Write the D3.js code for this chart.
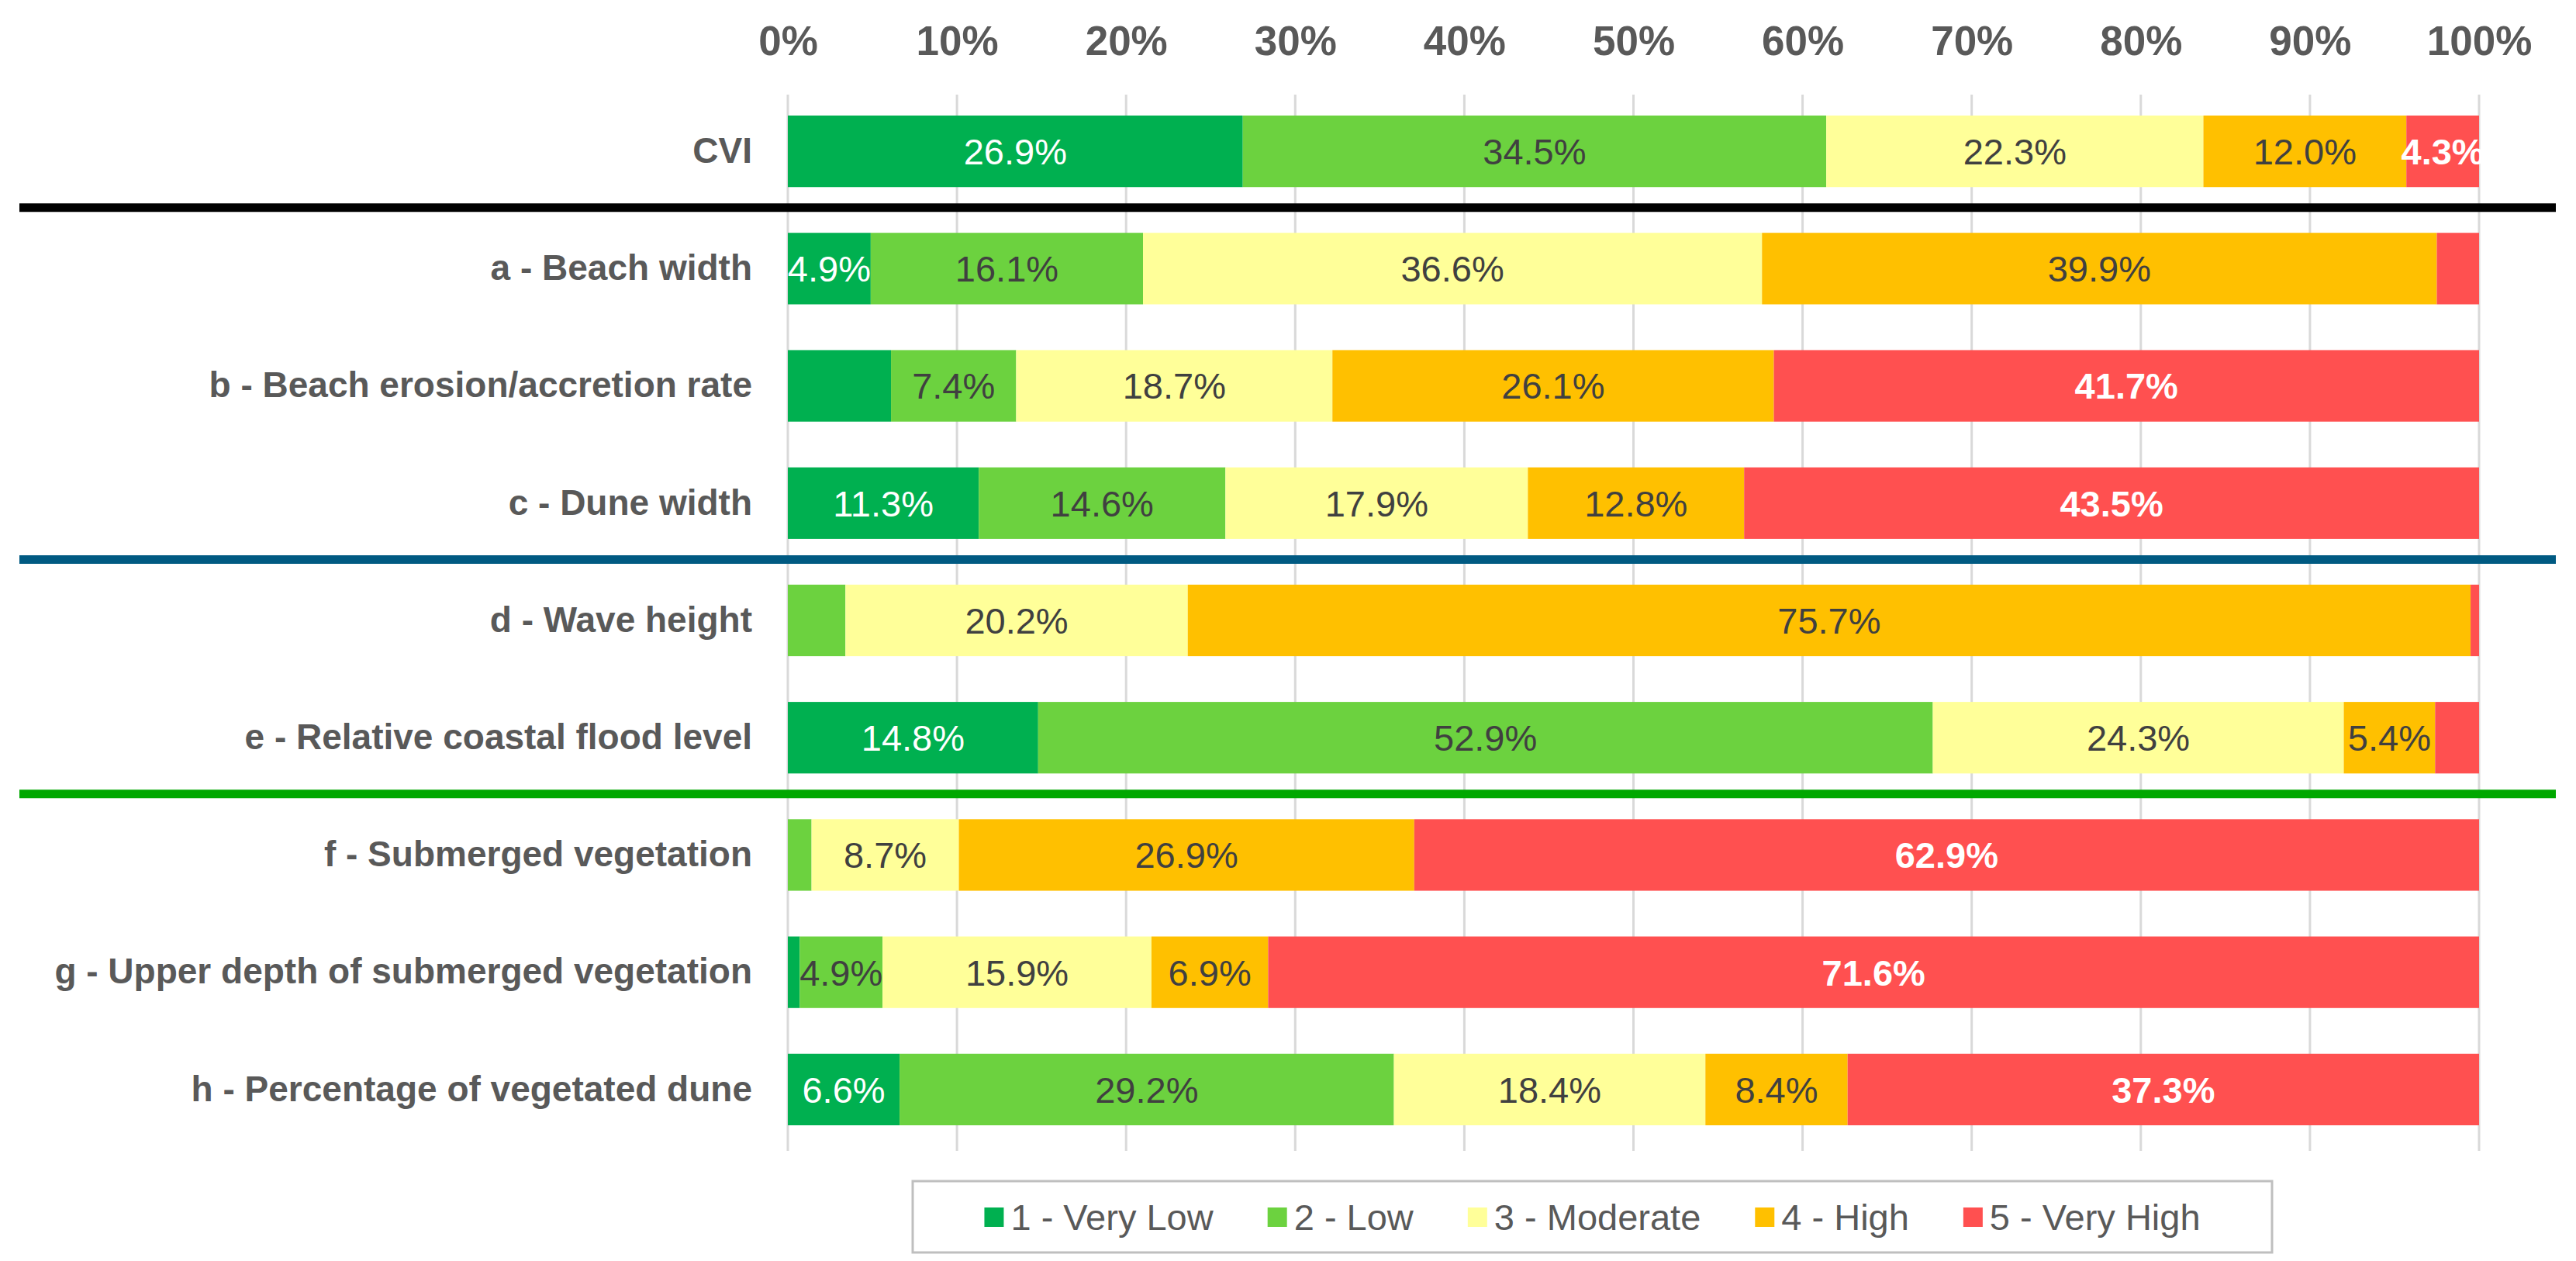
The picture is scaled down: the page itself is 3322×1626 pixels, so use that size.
<!DOCTYPE html>
<html>
<head>
<meta charset="utf-8">
<script src="https://cdn.jsdelivr.net/npm/d3@7"></script>
<style>
  body { margin: 0; background: white; }
  text { font-family: "Liberation Sans", Arial, sans-serif; }
  .gridline { stroke: #d9d9d9; stroke-width: 3; }
</style>
</head>
<body>
<div id="rysCVI"></div>
<script>
var categories = ["CVI", "a - Beach width", "b - Beach erosion/accretion rate", "c - Dune width",
  "d - Wave height", "e - Relative coastal flood level", "f - Submerged vegetation",
  "g - Upper depth of submerged vegetation", "h - Percentage of vegetated dune"];

var classes = ["1 - Very Low", "2 - Low", "3 - Moderate", "4 - High", "5 - Very High"];

var veryLow  = [26.9, 4.9, 6.1, 11.3, 0.0, 14.8, 0.0, 0.7, 6.6];
var low      = [34.5, 16.1, 7.4, 14.6, 3.4, 52.9, 1.4, 4.9, 29.2];
var moderate = [22.3, 36.6, 18.7, 17.9, 20.2, 24.3, 8.7, 15.9, 18.4];
var high     = [12.0, 39.9, 26.1, 12.8, 75.7, 5.4, 26.9, 6.9, 8.4];
var veryHigh = [4.3, 2.5, 41.7, 43.5, 0.5, 2.6, 62.9, 71.6, 37.3];

var tickValues = [0, 10, 20, 30, 40, 50, 60, 70, 80, 90, 100];

// separator lines drawn after these rows
var separators = [
  { after: "CVI", color: "#000000" },
  { after: "c - Dune width", color: "#005a82" },
  { after: "e - Relative coastal flood level", color: "#00a800" }
];

// segments whose label was left out in the original
var hiddenLabels = [["b - Beach erosion/accretion rate", 0]];

var colors = ["#00b050", "#6cd23f", "#ffff99", "#ffc000", "#ff5050"];
var labelFill = ["#ffffff", "#404040", "#404040", "#404040", "#ffffff"];
var labelWeight = ["normal", "normal", "normal", "normal", "bold"];

var series = [veryLow, low, moderate, high, veryHigh];
var rows = categories.map(function (c, i) {
  var r = { cat: c };
  classes.forEach(function (k, j) { r[k] = series[j][i]; });
  return r;
});

var W = 3322, H = 1626;

var svg = d3.select("#rysCVI")
  .append("svg")
  .attr("width", W)
  .attr("height", H)
  .style("background", "white");

var xscale = d3.scaleLinear()
  .domain([0, 100])
  .range([1016, 3197]);

var yscale = d3.scaleBand()
  .domain(categories)
  .range([119.5, 1480.5])
  .paddingInner(0.39)
  .paddingOuter(0.195);

// vertical grid
svg.append("g")
  .selectAll("line")
  .data(tickValues)
  .enter().append("line")
  .attr("class", "gridline")
  .attr("x1", d => xscale(d))
  .attr("x2", d => xscale(d))
  .attr("y1", 122)
  .attr("y2", 1484);

// top axis labels
var xAxis = svg.append("g")
  .attr("transform", "translate(0,71)")
  .call(d3.axisTop(xscale).tickValues(tickValues).tickFormat(d => d + "%").tickSize(0).tickPadding(0));
xAxis.select(".domain").remove();
xAxis.selectAll("text")
  .attr("dy", 0)
  .style("font-family", "'Liberation Sans', Arial, sans-serif")
  .style("font-size", "53px")
  .style("font-weight", "bold")
  .style("fill", "#595959");

// category labels
var yAxis = svg.append("g")
  .attr("transform", "translate(970,0)")
  .call(d3.axisLeft(yscale).tickSize(0).tickPadding(0));
yAxis.select(".domain").remove();
yAxis.selectAll("text")
  .style("font-family", "'Liberation Sans', Arial, sans-serif")
  .style("font-size", "46px")
  .style("font-weight", "bold")
  .style("fill", "#595959");

// 100% stacked: each row is scaled to its own total
var stacked = d3.stack().keys(classes).offset(d3.stackOffsetExpand)(rows);

var layers = svg.append("g")
  .selectAll("g")
  .data(stacked)
  .enter().append("g")
  .attr("fill", (d, i) => colors[i]);

layers.selectAll("rect")
  .data(d => d)
  .enter().append("rect")
  .attr("x", d => xscale(d[0] * 100))
  .attr("width", d => Math.max(0, xscale(d[1] * 100) - xscale(d[0] * 100)))
  .attr("y", d => yscale(d.data.cat))
  .attr("height", yscale.bandwidth());

function isHidden(cat, k) {
  return hiddenLabels.some(h => h[0] === cat && h[1] === k);
}

layers.each(function (layer, k) {
  var key = layer.key;
  d3.select(this).selectAll("text")
    .data(layer.filter(d => d.data[key] >= 4.2 && !isHidden(d.data.cat, k)))
    .enter().append("text")
    .attr("x", d => xscale((d[0] + d[1]) / 2 * 100))
    .attr("y", d => yscale(d.data.cat) + yscale.bandwidth() / 2)
    .attr("dy", "0.36em")
    .attr("text-anchor", "middle")
    .style("font-size", "47px")
    .style("font-weight", labelWeight[k])
    .style("fill", labelFill[k])
    .text(d => d.data[key].toFixed(1) + "%");
});

// group separators
var gap = yscale.step() - yscale.bandwidth();
svg.append("g")
  .selectAll("line")
  .data(separators)
  .enter().append("line")
  .attr("x1", 25)
  .attr("x2", 3296)
  .attr("y1", d => yscale(d.after) + yscale.bandwidth() + gap / 2 - 3)
  .attr("y2", d => yscale(d.after) + yscale.bandwidth() + gap / 2 - 3)
  .attr("stroke", d => d.color)
  .attr("stroke-width", 11);

// legend
var legend = svg.append("g");
legend.append("rect")
  .attr("x", 1177)
  .attr("y", 1523)
  .attr("width", 1753)
  .attr("height", 92)
  .attr("fill", "white")
  .attr("stroke", "#bfbfbf")
  .attr("stroke-width", 3);

var items = legend.append("g");
var cx = 0;
classes.forEach(function (k, i) {
  var it = items.append("g").attr("transform", "translate(" + cx + ",0)");
  it.append("rect")
    .attr("x", 0)
    .attr("y", -12)
    .attr("width", 25)
    .attr("height", 25)
    .attr("fill", colors[i]);
  var t = it.append("text")
    .attr("x", 34)
    .attr("y", 0)
    .attr("dy", "0.36em")
    .style("font-size", "47px")
    .style("fill", "#595959")
    .text(k);
  cx += 34 + t.node().getComputedTextLength() + 70;
});
cx -= 70;
items.attr("transform", "translate(" + (2053.5 - cx / 2) + ",1569)");
</script>
</body>
</html>
